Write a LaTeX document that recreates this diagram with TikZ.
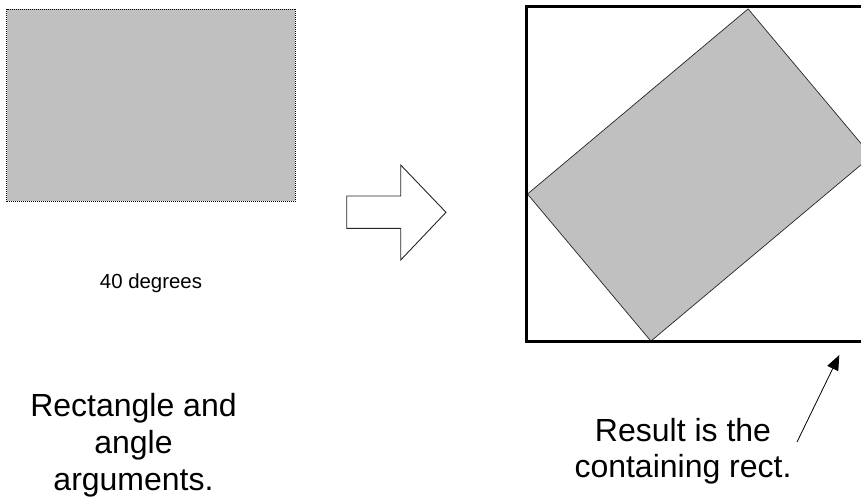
\documentclass[tikz,border=0pt]{standalone}
\usepackage{fontspec}
\setmainfont{Liberation Sans}
\usetikzlibrary{arrows.meta}
\definecolor{rectgray}{HTML}{C0C0C0}
\begin{document}
\begin{tikzpicture}[x=1pt, y=-1pt,
  inputrect/.style={draw=black, fill=rectgray, line width=1pt,
    dash pattern=on 1pt off 1pt, inner sep=0pt, outer sep=0pt},
  rotbox/.style={draw=black!85, fill=rectgray, line width=0.7pt,
    inner sep=0pt, outer sep=0pt},
  framebox/.style={draw=black, line width=3pt, inner sep=0pt, outer sep=0pt},
  blockarrow/.style={draw=black!85, fill=white, line width=0.9pt, line join=miter},
  pointer/.style={-{Triangle[length=15pt, width=12pt]}, line width=0.8pt},
  smalltext/.style={font=\fontsize{20.4}{24}\selectfont, anchor=base, inner sep=0pt},
  bigtext/.style={font=\fontsize{32}{36.8}\selectfont, anchor=base, inner sep=0pt}]
\useasboundingbox (0,0) rectangle (861,499);
\clip (0,0) rectangle (861,499);

% input rectangle
\node[inputrect, minimum width=288.3, minimum height=192] (input) at (150.9,105.4) {};
\node[smalltext] (angle) at (151,288.3) {40 degrees};

% block arrow between the two halves
\draw[blockarrow] (346.7,196) -- (400.7,196) -- (400.7,165) -- (446,212.3)
  -- (400.7,260) -- (400.7,228.3) -- (346.7,228.3) -- cycle;

% containing rectangle and the rotated rectangle inside it
\node[rotbox, rotate=40, minimum width=288, minimum height=192] (rotated) at (699.5,175) {};
\node[framebox, minimum width=346, minimum height=335] (frame) at (699.5,174.2) {};

% captions
\node[bigtext] (capA1) at (133.5,416.7) {Rectangle and};
\node[bigtext] (capA2) at (133.5,453) {angle};
\node[bigtext] (capA3) at (133.5,490) {arguments.};
\node[bigtext] (capB1) at (683,441.7) {Result is the};
\node[bigtext] (capB2) at (683,477) {containing rect.};

% pointer towards the containing rectangle
\coordinate (ptrtail) at (797,442);
\coordinate (ptrtip) at (839.3,355);
\draw[pointer] (ptrtail) -- (ptrtip);
\end{tikzpicture}
\end{document}
